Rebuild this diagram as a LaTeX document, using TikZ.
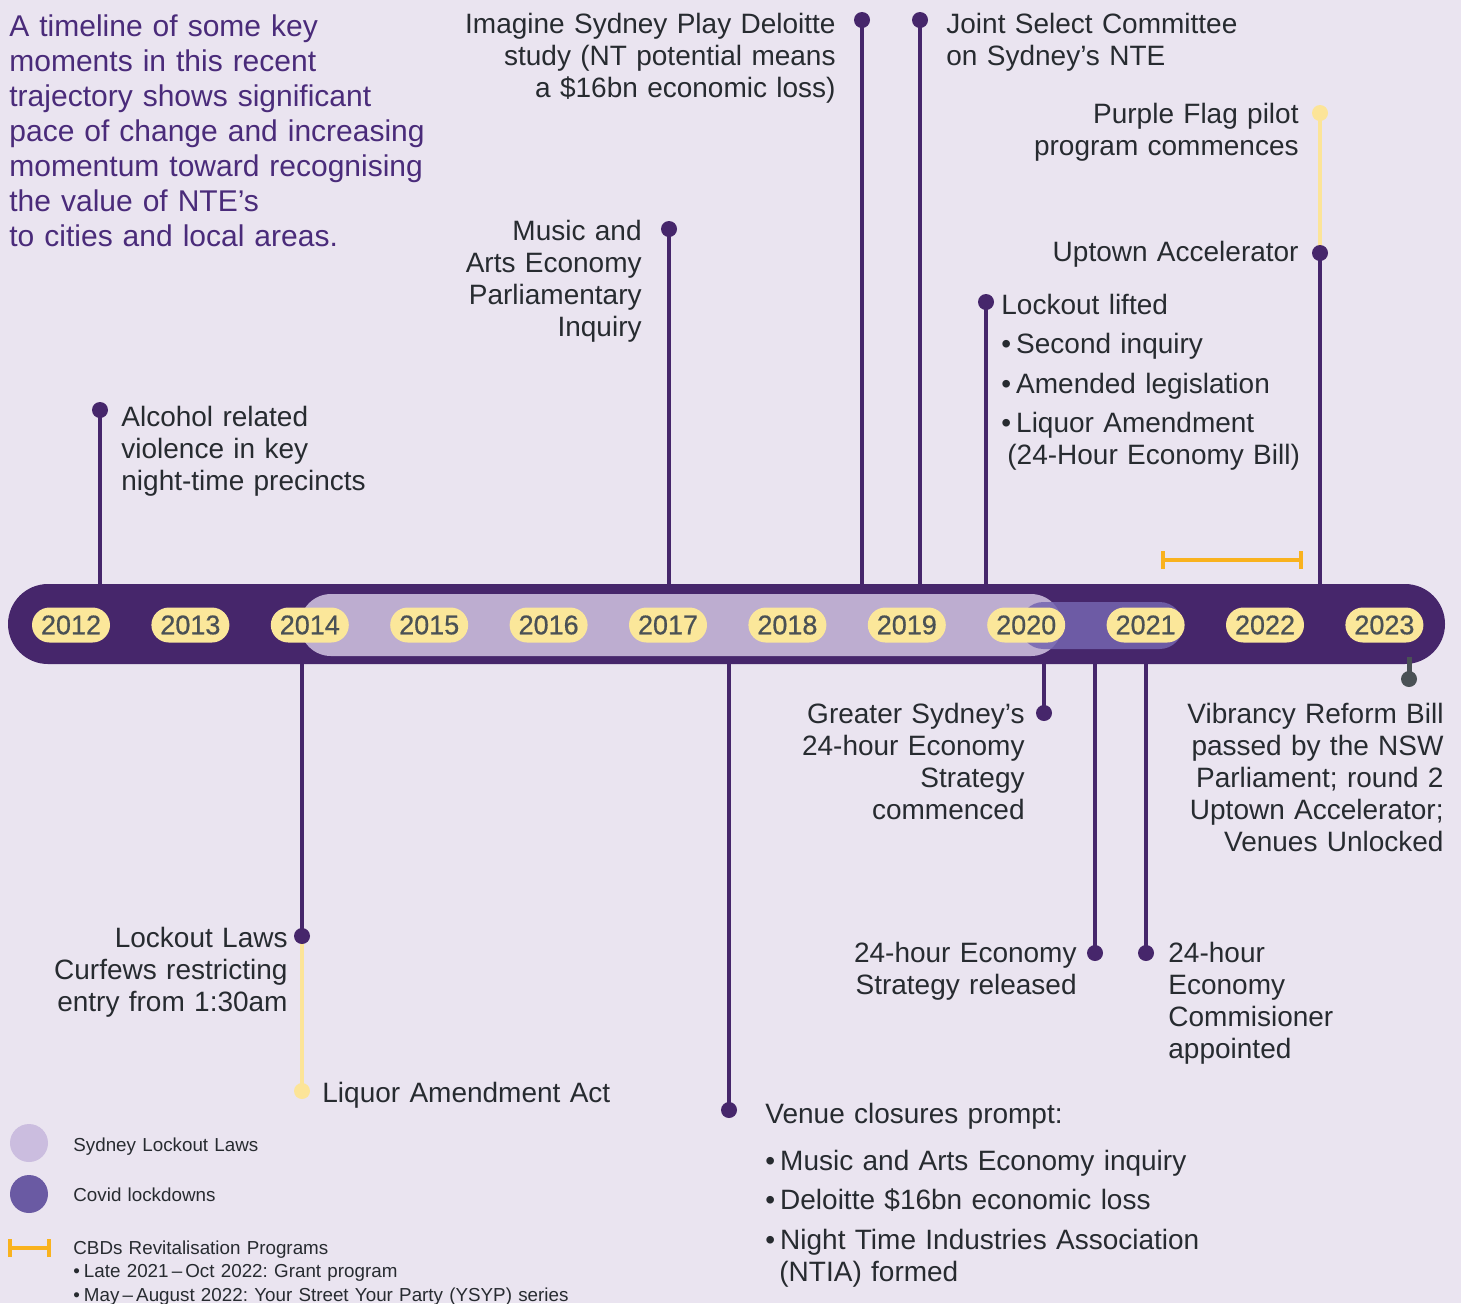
\documentclass[tikz,border=0pt]{standalone}
\usepackage{fontspec}
\setmainfont{Liberation Sans}
\frenchspacing
\definecolor{bg}{HTML}{EAE4F0}
\definecolor{bar}{HTML}{46266B}
\definecolor{lock}{HTML}{BDADD0}
\definecolor{covid}{HTML}{7565B0}
\definecolor{pill}{HTML}{FBE79A}
\definecolor{yeartxt}{HTML}{4A5155}
\definecolor{txt}{HTML}{272B30}
\definecolor{ttl}{HTML}{4A2B7A}
\definecolor{orng}{HTML}{F9B21E}
\definecolor{ylw}{HTML}{FCE498}
\definecolor{legl}{HTML}{CBBDDF}
\definecolor{legd}{HTML}{6A5AA3}
\definecolor{gry}{HTML}{4A5155}
\begin{document}
\begin{tikzpicture}[x=0.5pt,y=-0.5pt,
  lbl/.style={inner sep=0pt, text=txt, font=\fontsize{14}{16}\selectfont},
  lblL/.style={lbl, anchor=base west, text width=300pt, align=left},
  lblR/.style={lbl, anchor=base east, text width=300pt, align=right},
  legtxt/.style={inner sep=0pt, text=txt, anchor=base west, text width=300pt, align=left, font=\fontsize{9.4}{11.75}\selectfont},
  dot/.style={circle, fill=bar, inner sep=0pt, minimum size=8pt},
  ydot/.style={dot, fill=ylw},
  gdot/.style={dot, fill=gry},
  conn/.style={draw=bar, line width=2pt},
  yconn/.style={draw=ylw, line width=2pt},
  gconn/.style={draw=gry, line width=2.5pt},
  bracket/.style={draw=orng, line width=2pt},
  yearpill/.style={fill=pill, rounded corners=8.75pt, minimum width=39pt, minimum height=17.5pt, inner sep=0pt, text=yeartxt, font=\fontsize{13.5}{13.5}\selectfont\addfontfeature{FakeBold=0.6}},
]
\useasboundingbox (0,0) rectangle (1461,1303);
\fill[bg] (0,0) rectangle (1461,1303);

% ---------- coordinates: bar edges and dot centres ----------
\coordinate (a1b) at (100,584);  \coordinate (a1d) at (100,410);
\coordinate (a2b) at (669,584);  \coordinate (a2d) at (669,229);
\coordinate (a3b) at (862,584);  \coordinate (a3d) at (862,20);
\coordinate (a4b) at (920,584);  \coordinate (a4d) at (920,20);
\coordinate (a5b) at (986,584);  \coordinate (a5d) at (986,302);
\coordinate (a6b) at (1320,584); \coordinate (a6d) at (1320,253); \coordinate (a6y) at (1320,113);
\coordinate (b1b) at (302,664);  \coordinate (b1d) at (302,936);  \coordinate (b1y) at (302,1091);
\coordinate (b2b) at (729,664);  \coordinate (b2d) at (729,1110);
\coordinate (b3b) at (1044,662); \coordinate (b3d) at (1044,713);
\coordinate (b4b) at (1095,664); \coordinate (b4d) at (1095,953);
\coordinate (b5b) at (1146,664); \coordinate (b5d) at (1146,953);
\coordinate (b6b) at (1409,657); \coordinate (b6d) at (1409,679);

% ---------- connectors ----------
\draw[conn] (a1b) -- (a1d);
\draw[conn] (a2b) -- (a2d);
\draw[conn] (a3b) -- (a3d);
\draw[conn] (a4b) -- (a4d);
\draw[conn] (a5b) -- (a5d);
\draw[conn] (a6b) -- (a6d);
\draw[yconn] (a6d) -- (a6y);
\draw[conn] (b1b) -- (b1d);
\draw[yconn] (b1d) -- (b1y);
\draw[conn] (b2b) -- (b2d);
\draw[conn] (b3b) -- (b3d);
\draw[conn] (b4b) -- (b4d);
\draw[conn] (b5b) -- (b5d);

% ---------- timeline bar ----------
\fill[bar, rounded corners=20pt] (8,584) rectangle (1445,664);
\fill[lock, rounded corners=15.5pt] (300,594) rectangle (1062,656);
\fill[covid, opacity=0.85, rounded corners=11.75pt] (1020,602) rectangle (1183,649);

\draw[gconn] (b6b) -- (b6d);

\foreach \yr [count=\i from 0] in {2012,2013,2014,2015,2016,2017,2018,2019,2020,2021,2022,2023}
  \node[yearpill] (y\yr) at ({71+119.4*\i},625) {\yr};

% ---------- CBD bracket ----------
\coordinate (cb1) at (1163,560); \coordinate (cb2) at (1301,560);
\draw[bracket] (cb1) -- (cb2);
\draw[bracket] ([yshift=-4.5pt]cb1) -- ([yshift=4.5pt]cb1);
\draw[bracket] ([yshift=-4.5pt]cb2) -- ([yshift=4.5pt]cb2);

% ---------- dots ----------
\node[dot] (d1) at (a1d) {};
\node[dot] (d2) at (a2d) {};
\node[dot] (d3) at (a3d) {};
\node[dot] (d4) at (a4d) {};
\node[dot] (d5) at (a5d) {};
\node[dot] (d6) at (a6d) {};
\node[ydot] (d6y) at (a6y) {};
\node[dot] (e1) at (b1d) {};
\node[ydot] (e1y) at (b1y) {};
\node[dot] (e2) at (b2d) {};
\node[dot] (e3) at (b3d) {};
\node[dot] (e4) at (b4d) {};
\node[dot] (e5) at (b5d) {};
\node[gdot] (e6) at (b6d) {};

% ---------- title ----------
\node[inner sep=0pt, anchor=base west, text width=240pt, align=left, text=ttl,
      font=\fontsize{15}{17.5}\selectfont] (title) at (9,36)
  {A timeline of some key\\moments in this recent\\trajectory shows significant\\pace of change and increasing\\momentum toward recognising\\the value of NTE’s\\to cities and local areas.};

% ---------- labels above ----------
\node[lblL] (t1) at (121,426) {Alcohol related\\violence in key\\night-time precincts};
\node[lblR] (t2) at (642,240) {Music and\\Arts Economy\\Parliamentary\\Inquiry};
\node[lblR] (t3) at (836,33) {Imagine Sydney Play Deloitte\\study (NT potential means\\a \$16bn economic loss)};
\node[lblL] (t4) at (946,33) {Joint Select Committee\\on Sydney’s NTE};
\node[lblL] (t5) at (1001,314) {Lockout lifted\\[3.75pt]•\hspace{2.5pt}Second inquiry\\[3.75pt]•\hspace{2.5pt}Amended legislation\\[3.75pt]•\hspace{2.5pt}Liquor Amendment\\\hspace*{3pt}(24-Hour Economy Bill)};
\node[lblR] (t6) at (1299,123) {Purple Flag pilot\\program commences};
\node[lblR] (t7) at (1299,261) {Uptown Accelerator};

% ---------- labels below ----------
\node[lblR] (t8) at (288,947) {Lockout Laws\\Curfews restricting\\entry from 1:30am};
\node[lblL] (t9) at (322,1102) {Liquor Amendment Act};
\node[lblL] (t10) at (765,1123) {Venue closures prompt:\\[7.5pt]•\hspace{2.5pt}Music and Arts Economy inquiry\\[3.75pt]•\hspace{2.5pt}Deloitte \$16bn economic loss\\[3.75pt]•\hspace{2.5pt}Night Time Industries Association\\\hspace*{7pt}(NTIA) formed};
\node[lblR] (t11) at (1025,723) {Greater Sydney’s\\24-hour Economy\\Strategy\\commenced};
\node[lblR] (t12) at (1077,962) {24-hour Economy\\Strategy released};
\node[lblL] (t13) at (1168,962) {24-hour\\Economy\\Commisioner\\appointed};
\node[lblR] (t14) at (1444,723) {Vibrancy Reform Bill\\passed by the NSW\\Parliament; round 2\\Uptown Accelerator;\\Venues Unlocked};

% ---------- legend ----------
\node[circle, fill=legl, inner sep=0pt, minimum size=19pt] (lg1) at (29,1143) {};
\node[circle, fill=legd, inner sep=0pt, minimum size=19pt] (lg2) at (29,1194) {};
\coordinate (lb1) at (10,1248); \coordinate (lb2) at (49,1248);
\draw[bracket] (lb1) -- (lb2);
\draw[bracket] ([yshift=-4.5pt]lb1) -- ([yshift=4.5pt]lb1);
\draw[bracket] ([yshift=-4.5pt]lb2) -- ([yshift=4.5pt]lb2);
\node[legtxt] (lt1) at (73,1151) {Sydney Lockout Laws};
\node[legtxt] (lt2) at (73,1201) {Covid lockdowns};
\node[legtxt] (lt3) at (73,1254) {CBDs Revitalisation Programs\\•\hspace{2pt}Late 2021\,–\,Oct 2022: Grant program\\•\hspace{2pt}May\,–\,August 2022: Your Street Your Party (YSYP) series};
\end{tikzpicture}
\end{document}
